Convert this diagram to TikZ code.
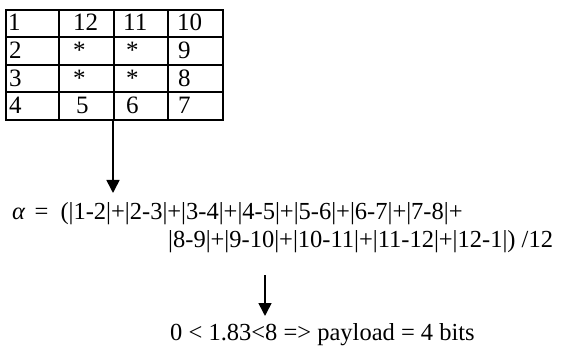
\documentclass[tikz,border=0pt]{standalone}
\usepackage{fontspec}
\setmainfont{Liberation Serif}
\usetikzlibrary{arrows.meta}
\begin{document}
\begin{tikzpicture}[x=1pt,y=-1pt,
  cell/.style={anchor=base west,inner sep=0pt,font=\fontsize{25}{30}\selectfont},
  txt/.style={anchor=base west,inner sep=0pt,font=\fontsize{24.5}{30}\selectfont},
  conn/.style={line width=1.6pt,-{Triangle[width=13pt,length=13pt]}},
  gridline/.style={line width=1.8pt}]
\useasboundingbox (0,0) rectangle (561,347);
% table
\node[draw,gridline,inner sep=0pt,minimum width=217pt,minimum height=110pt,anchor=north west] (tbl) at (5,9.5) {};
\foreach \x in {59,114,168} \draw[gridline] (\x,9.5) -- (\x,119.5);
\foreach \y in {37,65,92} \draw[gridline] (5,\y) -- (222,\y);
% row 1
\node[cell] (c11) at (8,31) {1};
\node[cell] (c12) at (73,31) {12};
\node[cell] (c13) at (123,31) {11};
\node[cell] (c14) at (177,31) {10};
% row 2
\node[cell] (c21) at (9,59) {2};
\node[cell] (c22) at (73,59) {*};
\node[cell] (c23) at (126,59) {*};
\node[cell] (c24) at (178,59) {9};
% row 3
\node[cell] (c31) at (9,87) {3};
\node[cell] (c32) at (73,87) {*};
\node[cell] (c33) at (126,87) {*};
\node[cell] (c34) at (178,87) {8};
% row 4
\node[cell] (c41) at (9,114) {4};
\node[cell] (c42) at (76,114) {5};
\node[cell] (c43) at (126,114) {6};
\node[cell] (c44) at (178,114) {7};
% formula
\node[txt] (f1) at (12,219) {\textit{α}\hspace{3pt} = \hspace{6pt}(|1-2|+|2-3|+|3-4|+|4-5|+|5-6|+|6-7|+|7-8|+};
\node[txt] (f2) at (168,247) {|8-9|+|9-10|+|10-11|+|11-12|+|12-1|) /12};
\node[txt] (f3) at (170,340) {0 < 1.83<8 => payload = 4 bits};
% arrows
\coordinate (a1s) at (113,121);
\coordinate (a1e) at (113,193);
\coordinate (a2s) at (265,275);
\coordinate (a2e) at (265,316);
\draw[conn] (a1s) -- (a1e);
\draw[conn] (a2s) -- (a2e);
\end{tikzpicture}
\end{document}
